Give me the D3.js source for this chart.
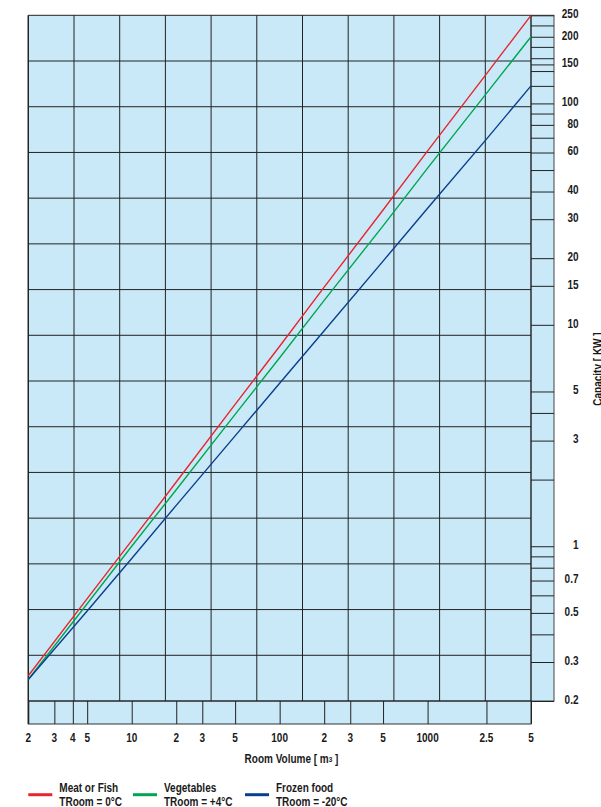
<!DOCTYPE html>
<html>
<head>
<meta charset="utf-8">
<script src="https://cdn.jsdelivr.net/npm/d3@7"></script>
<style>
  body { margin: 0; background: #fff; }
  svg { display: block; }
  text {
    font-family: 'Liberation Sans Narrow', 'Liberation Sans', Arial, sans-serif;
    font-weight: bold;
    font-size: 12.5px;
    fill: #1a1a1a;
  }
</style>
</head>
<body>
<div id="graf"></div>
<script>
// I. Data
volumes    = [2, 5, 10, 20, 50, 100, 200, 500, 1000, 2500, 5000]
meatFish   = [0.26, 0.58, 1.06, 1.95, 4.37, 8.0, 14.8, 33, 61, 136, 250]
vegetables = [0.25, 0.55, 1.0, 1.8, 3.94, 7.1, 12.9, 28, 51, 111, 200]
frozenFood = [0.25, 0.51, 0.88, 1.53, 3.15, 5.45, 9.4, 19.4, 33.6, 69, 120]

seriesNames  = ['Meat or Fish', 'Vegetables', 'Frozen food']
seriesRooms  = ['TRoom = 0°C', 'TRoom = +4°C', 'TRoom = -20°C']
seriesColors = ['#e8262d', '#00a651', '#0b3f8e']

xTicks      = [2, 3, 4, 5, 10, 20, 30, 50, 100, 200, 300, 500, 1000, 2500, 5000]
xTickLabels = ['2', '3', '4', '5', '10', '2', '3', '5', '100', '2', '3', '5', '1000', '2.5', '5']
yTicks  = [250, 225, 200, 180, 160, 150, 140, 120, 100, 90, 80, 70, 60, 50, 40, 30,
           20, 15, 10, 5, 4, 3, 2, 1, 0.9, 0.8, 0.7, 0.6, 0.5, 0.4, 0.3, 0.2]
yLabels = [250, 200, 150, 100, 80, 60, 40, 30, 20, 15, 10, 5, 3, 1, 0.7, 0.5, 0.3, 0.2]

gridCols = 11
gridRows = 15

// II. Layout
ancho_total = 601
alto_total = 807

left = 28.3
top_ = 15.3
right = 531
bottom = 701
strip = 23

legendX = [28.3, 133, 245]

bgColor = '#c9e9f8'
gridColor = '#222'

svg = d3.select('#graf').append('svg')
        .attr('width', ancho_total)
        .attr('height', alto_total)

x = d3.scaleLog()
      .domain([2, 5000])
      .range([left, right])

y = d3.scaleLog()
      .domain([0.2, 250])
      .range([bottom, top_])

gx = d3.scaleLinear().domain([0, gridCols]).range([left, right])
gy = d3.scaleLinear().domain([0, gridRows]).range([top_, bottom])

// III. Backgrounds: plot, right strip, bottom strip
svg.append('rect')
   .attr('x', left).attr('y', top_)
   .attr('width', right - left).attr('height', bottom - top_)
   .attr('fill', bgColor)

svg.append('rect')
   .attr('x', right).attr('y', top_)
   .attr('width', strip).attr('height', bottom - top_)
   .attr('fill', bgColor)
   .attr('stroke', '#444').attr('stroke-width', 1)

svg.append('rect')
   .attr('x', left).attr('y', bottom)
   .attr('width', right - left).attr('height', strip)
   .attr('fill', bgColor)
   .attr('stroke', '#333').attr('stroke-width', 1)

// IV. Uniform grid
grid = svg.append('g').attr('stroke', gridColor).attr('stroke-width', 1)

grid.selectAll('line.v')
    .data(d3.range(gridCols + 1))
    .enter().append('line')
      .attr('class', 'v')
      .attr('x1', d => gx(d)).attr('x2', d => gx(d))
      .attr('y1', top_).attr('y2', bottom)

grid.selectAll('line.h')
    .data(d3.range(gridRows + 1))
    .enter().append('line')
      .attr('class', 'h')
      .attr('x1', left).attr('x2', right)
      .attr('y1', d => gy(d)).attr('y2', d => gy(d))

// V. Scale strips
yAxisCall = d3.axisRight(y)
              .tickValues(yTicks)
              .tickSize(strip)
              .tickSizeOuter(0)
              .tickFormat('')
yAxisGroup = svg.append('g')
                .attr('transform', `translate(${ right }, 0)`)
                .call(yAxisCall)
yAxisGroup.select('.domain').remove()
yAxisGroup.selectAll('line').attr('stroke', gridColor)

xAxisCall = d3.axisBottom(x)
              .tickValues(xTicks)
              .tickSize(strip)
              .tickSizeOuter(0)
              .tickFormat('')
xAxisGroup = svg.append('g')
                .attr('transform', `translate(0, ${ bottom })`)
                .call(xAxisCall)
xAxisGroup.select('.domain').remove()
xAxisGroup.selectAll('line').attr('stroke', gridColor)

svg.append('line')
   .attr('x1', left).attr('x2', left)
   .attr('y1', top_).attr('y2', bottom + strip)
   .attr('stroke', gridColor).attr('stroke-width', 1.3)

// VI. Tick labels
svg.selectAll('text.ylab')
   .data(yLabels)
   .enter().append('text')
     .attr('class', 'ylab squeeze')
     .attr('x', 578.5)
     .attr('y', d => y(d) + 2.8)
     .attr('text-anchor', 'end')
     .text(d => d)

svg.selectAll('text.xlab')
   .data(xTicks)
   .enter().append('text')
     .attr('class', 'xlab squeeze')
     .attr('x', d => x(d))
     .attr('y', 742.3)
     .attr('text-anchor', 'middle')
     .text((d, i) => xTickLabels[i])

// axis title with a small raised "3", condensed by a horizontal scale
xTitle = svg.append('text')
            .attr('transform', 'translate(291.5, 763.3) scale(0.8, 1)')
            .attr('text-anchor', 'middle')
xTitle.append('tspan').text('Room Volume [ m')
xTitle.append('tspan').attr('font-size', '8px').attr('dy', -1).text('3')
xTitle.append('tspan').attr('dy', 1).text(' ]')

svg.append('text')
   .attr('class', 'squeeze')
   .attr('transform', 'translate(602, 369) rotate(-90)')
   .attr('text-anchor', 'middle')
   .text('Capacity [ KW ]')

// VII. Series lines
series = [meatFish, vegetables, frozenFood].map((vals, i) => ({
  name: seriesNames[i],
  color: seriesColors[i],
  points: volumes.map((v, j) => ({ v: v, c: vals[j] }))
}))

line = d3.line()
         .x(d => x(d.v))
         .y(d => y(d.c))

svg.append('g').selectAll('path')
   .data(series)
   .enter().append('path')
     .attr('d', d => line(d.points))
     .attr('fill', 'none')
     .attr('stroke', d => d.color)
     .attr('stroke-width', 1.4)

// VIII. Legend
legend = svg.selectAll('g.leg')
            .data(series)
            .enter().append('g')
              .attr('class', 'leg')
              .attr('transform', (d, i) => `translate(${ legendX[i] }, 0)`)

legend.append('line')
      .attr('x1', 0).attr('x2', 24)
      .attr('y1', 794.7).attr('y2', 794.7)
      .attr('stroke', d => d.color)
      .attr('stroke-width', 3)

legend.append('text')
      .attr('class', 'squeeze')
      .attr('x', 31)
      .attr('y', 792.3)
      .text(d => d.name)

legend.append('text')
      .attr('class', 'squeeze')
      .attr('x', 31)
      .attr('y', 806.2)
      .text((d, i) => seriesRooms[i])

// IX. Condensed look: squeeze plain texts to ~80% of their natural width
svg.selectAll('text.squeeze').each(function() {
  w = this.getComputedTextLength()
  d3.select(this)
    .attr('textLength', w * 0.8)
    .attr('lengthAdjust', 'spacingAndGlyphs')
})
</script>
</body>
</html>
